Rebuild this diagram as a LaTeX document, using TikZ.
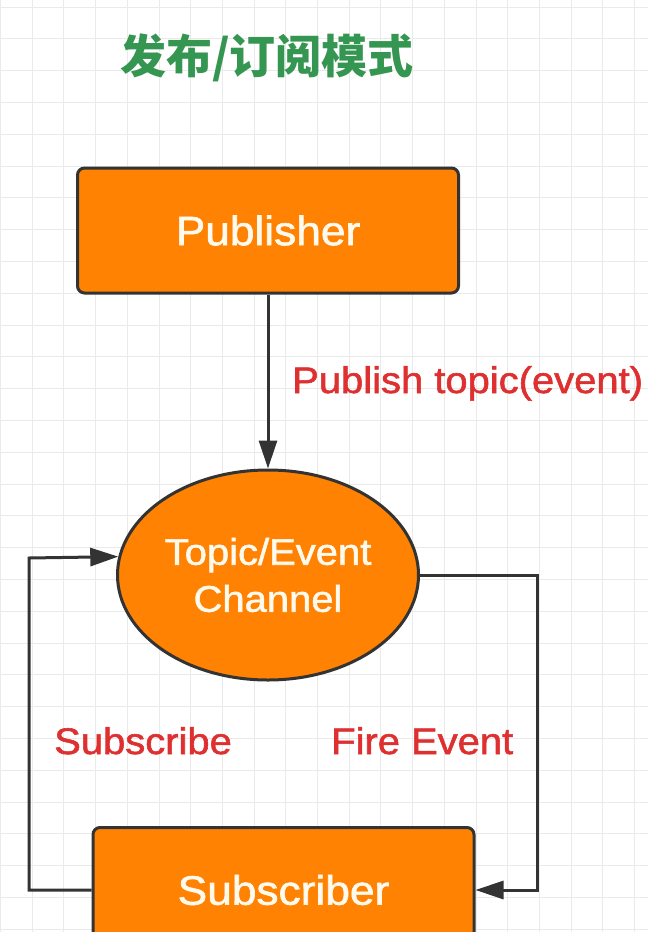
\documentclass[tikz,border=0pt]{standalone}
\usepackage{fontspec}
\setmainfont{Liberation Sans}[FakeStretch=1.08,FakeBold=1.5]
\newfontfamily\cjkfont{Noto Sans CJK SC}
\usetikzlibrary{shapes.geometric,arrows.meta}
\definecolor{boxorange}{RGB}{255,130,2}
\definecolor{edgedark}{RGB}{51,51,51}
\definecolor{boxtext}{RGB}{255,250,238}
\definecolor{labelred}{RGB}{222,48,48}
\definecolor{titlegreen}{RGB}{52,150,80}
\definecolor{gridgray}{RGB}{234,234,234}
\tikzset{
  gridline/.style={draw=gridgray, line width=1pt},
  boxnode/.style={draw=edgedark, line width=3pt, fill=boxorange, rounded corners=7pt,
    text=boxtext, font=\fontsize{41}{47}\selectfont, inner sep=0pt,
    minimum width=381pt, minimum height=125pt},
  chan/.style={ellipse, draw=edgedark, line width=3pt, fill=boxorange, inner sep=0pt,
    text=boxtext, font=\fontsize{37}{47}\selectfont, align=center,
    minimum width=301pt, minimum height=210pt},
  conn/.style={draw=edgedark, line width=3pt},
  arr/.style={conn, -{Triangle[length=28pt,width=18pt]}},
  lbl/.style={text=labelred, font=\fontsize{37}{44}\selectfont, inner sep=0pt, anchor=base west},
}
\begin{document}
\begin{tikzpicture}[x=1pt,y=-1pt]
  \useasboundingbox (0,0) rectangle (648,932);
  \clip (0,0) rectangle (648,932);
  \fill[white] (0,0) rectangle (648,932);
  \foreach \i in {0,...,20} \draw[gridline] ({0.5+31.7*\i},0) -- ({0.5+31.7*\i},932);
  \foreach \j in {0,...,29} \draw[gridline] (0,{7+31.8*\j}) -- (648,{7+31.8*\j});

  \node[text=titlegreen, font=\cjkfont\bfseries\fontsize{46}{50}\selectfont, inner sep=0pt] (title) at (267,58) {发布/订阅模式};

  \node[boxnode] (pub) at (268,230.5) {Publisher};
  \node[chan] (ch) at (268,575) {Topic/Event\\Channel};
  \node[boxnode] (sub) at (283.5,890) {Subscriber};

  \coordinate (r1) at (537,575);
  \coordinate (r2) at (537,890);
  \coordinate (l1) at (29,890);
  \coordinate (l2) at (29,558);

  \draw[arr] (pub.south) -- (ch.north);
  \draw[arr] (ch.east) -- (r1) -- (r2) -- (sub.east);
  \draw[arr] (sub.west) -- (l1) -- (l2) -- (ch.173.5);

  \node[lbl] (lpub) at (292,393) {Publish topic(event)};
  \node[lbl] (lsub) at (54,754) {Subscribe};
  \node[lbl] (lfire) at (331,754) {Fire Event};
\end{tikzpicture}
\end{document}
